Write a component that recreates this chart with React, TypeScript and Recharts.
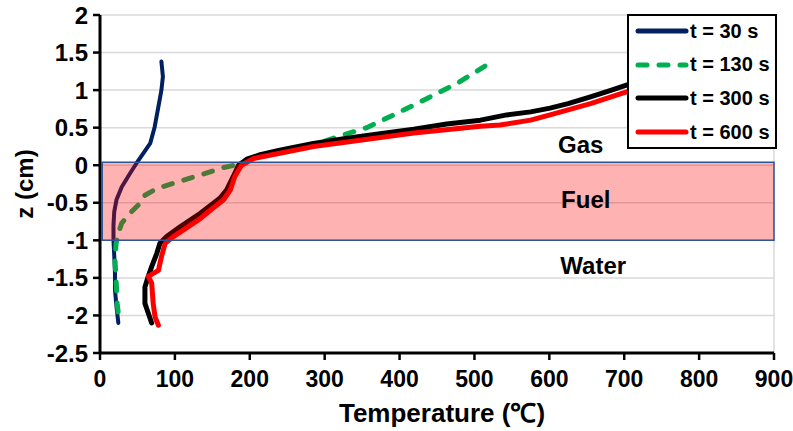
import React from 'react';
import {
  LineChart,
  Line,
  XAxis,
  YAxis,
  CartesianGrid,
  ReferenceArea,
  ReferenceDot,
  Legend,
} from 'recharts';

// ---------- data ----------
const xTicks = [0, 100, 200, 300, 400, 500, 600, 700, 800, 900];
const xGridTicks = [0, 50, 100, 150, 200, 250, 300, 350, 400, 450, 500, 550, 600, 650, 700, 750, 800, 850, 900];
const yTicks = [-2.5, -2, -1.5, -1, -0.5, 0, 0.5, 1, 1.5, 2];

// t = 30 s
const t30Temp = [82, 84, 82, 78, 73, 67, 58, 49, 40, 29, 22, 19, 18, 18, 19, 20, 20, 22, 24.5];
const t30Z = [1.38, 1.18, 1.0, 0.78, 0.51, 0.29, 0.16, 0.03, -0.11, -0.29, -0.46, -0.62, -0.8, -1.0, -1.2, -1.44, -1.66, -1.88, -2.1];

// t = 130 s
const t130Temp = [514, 477, 445, 419, 392, 356, 321, 303, 270, 240, 215, 197, 185, 165, 134, 98, 76, 60, 53, 40, 29, 24.5, 21.5, 20, 21.5, 23, 25.8];
const t130Z = [1.32, 1.09, 0.93, 0.8, 0.67, 0.5, 0.39, 0.33, 0.25, 0.19, 0.12, 0.06, 0.01, -0.03, -0.13, -0.24, -0.31, -0.4, -0.51, -0.64, -0.77, -0.91, -1.04, -1.26, -1.53, -1.84, -2.1];

// t = 300 s
const t300Temp = [790, 740, 704, 680, 655, 625, 601, 575, 543, 508, 463, 419, 374, 330, 285, 240, 214, 196, 185, 178, 169, 160, 151, 134, 107, 89, 80, 76, 69, 64.5, 60, 60, 64.5, 69];
const t300Z = [1.32, 1.17, 1.07, 0.99, 0.91, 0.82, 0.76, 0.71, 0.67, 0.6, 0.55, 0.48, 0.42, 0.36, 0.29, 0.2, 0.14, 0.08, 0.0, -0.15, -0.33, -0.44, -0.51, -0.64, -0.82, -0.95, -1.04, -1.17, -1.35, -1.48, -1.62, -1.84, -1.97, -2.1];

// t = 600 s
const t600Temp = [795, 745, 704, 655, 601, 575, 534, 508, 419, 330, 285, 240, 205, 189, 180, 174, 165, 151, 134, 107, 98, 87, 82, 78, 64.5, 69, 71, 73.5, 78];
const t600Z = [1.24, 1.09, 0.98, 0.82, 0.67, 0.6, 0.535, 0.52, 0.43, 0.31, 0.25, 0.16, 0.09, 0.0, -0.15, -0.33, -0.46, -0.57, -0.71, -0.89, -0.95, -1.04, -1.22, -1.4, -1.48, -1.57, -1.84, -2.02, -2.13];

// fuel layer
const fuelTempRange = [3, 900];
const fuelZRange = [-1, 0.04];

const toPoints = (temps: number[], zs: number[]) => temps.map((x, i) => ({ x, y: zs[i] }));

const seriesList = [
  { name: 't = 30 s', data: toPoints(t30Temp, t30Z), color: '#002060', width: 4, dash: undefined as string | undefined },
  { name: 't = 130 s', data: toPoints(t130Temp, t130Z), color: '#00B050', width: 5, dash: '9 12' },
  { name: 't = 300 s', data: toPoints(t300Temp, t300Z), color: '#000000', width: 5, dash: undefined },
  { name: 't = 600 s', data: toPoints(t600Temp, t600Z), color: '#FF0000', width: 5, dash: undefined },
];

const FONT = '"Liberation Sans", Arial, sans-serif';

const LegendBox = () => (
  <div
    style={{
      position: 'relative',
      width: 150,
      height: 135,
      boxSizing: 'border-box',
      border: '2px solid #000',
      background: '#fff',
      fontFamily: FONT,
    }}
  >
    {seriesList.map((s, i) => (
      <div
        key={s.name}
        style={{
          position: 'absolute',
          left: 5,
          top: 15 + i * 33.7 - 14,
          height: 28,
          display: 'flex',
          alignItems: 'center',
          whiteSpace: 'nowrap',
        }}
      >
        <svg width={56} height={10} style={{ display: 'block' }}>
          <line
            x1={4}
            y1={5}
            x2={52}
            y2={5}
            stroke={s.color}
            strokeWidth={5}
            strokeLinecap="round"
            strokeDasharray={s.dash ? '9 12' : undefined}
          />
        </svg>
        <span style={{ fontSize: 20, fontWeight: 'bold', color: '#000', marginLeft: 0 }}>{s.name}</span>
      </div>
    ))}
  </div>
);

const regionLabelStyle = { fontSize: 24, fontWeight: 'bold', fill: '#000', fontFamily: FONT };

export default function App() {
  return (
    <div style={{ position: 'absolute', left: 0, top: 0, width: 793, height: 431, background: '#fff' }}>
      <LineChart
        width={793}
        height={431}
        margin={{ top: 15, right: 19, left: 0, bottom: 0 }}
        style={{ fontFamily: FONT }}
      >
        <XAxis xAxisId="grid" type="number" dataKey="x" domain={[0, 900]} ticks={xGridTicks} hide />
        <CartesianGrid xAxisId="grid" stroke="#D9D9D9" strokeWidth={1.5} />
        <XAxis
          type="number"
          dataKey="x"
          domain={[0, 900]}
          ticks={xTicks}
          interval={0}
          height={78}
          tickSize={7}
          tickMargin={11}
          axisLine={{ stroke: '#000', strokeWidth: 3 }}
          tickLine={{ stroke: '#000', strokeWidth: 2.5 }}
          tick={{ fill: '#000', fontSize: 23, fontWeight: 'bold', fontFamily: FONT }}
          allowDataOverflow
          label={{
            value: 'Temperature (℃)',
            position: 'insideBottom',
            offset: 9,
            dx: 5,
            style: { fontSize: 26, fontWeight: 'bold', fill: '#000', fontFamily: FONT },
          }}
        />
        <YAxis
          type="number"
          dataKey="y"
          domain={[-2.5, 2]}
          ticks={yTicks}
          interval={0}
          width={100}
          tickSize={7}
          tickMargin={5}
          axisLine={{ stroke: '#000', strokeWidth: 3 }}
          tickLine={{ stroke: '#000', strokeWidth: 2.5 }}
          tick={{ fill: '#000', fontSize: 24, fontWeight: 'bold', fontFamily: FONT }}
          allowDataOverflow
          label={{
            value: 'z (cm)',
            angle: -90,
            position: 'center',
            dx: -26,
            style: { fontSize: 24, fontWeight: 'bold', fill: '#000', fontFamily: FONT },
          }}
        />
        {seriesList.map((s) => (
          <Line
            key={s.name}
            data={s.data}
            dataKey="y"
            name={s.name}
            type="linear"
            stroke={s.color}
            strokeWidth={s.width}
            strokeDasharray={s.dash}
            strokeLinecap="round"
            strokeLinejoin="round"
            dot={false}
            activeDot={false}
            isAnimationActive={false}
          />
        ))}
        <ReferenceArea
          x1={fuelTempRange[0]}
          x2={fuelTempRange[1]}
          y1={fuelZRange[0]}
          y2={fuelZRange[1]}
          fill="#FF0000"
          fillOpacity={0.3}
          stroke="#2F5597"
          strokeWidth={1.5}
          strokeOpacity={1}
          zIndex={450}
        />
        <ReferenceDot x={605} y={0.27} r={0} fill="none" stroke="none" label={{ value: 'Gas', position: 'right', style: regionLabelStyle }} />
        <ReferenceDot x={609} y={-0.46} r={0} fill="none" stroke="none" label={{ value: 'Fuel', position: 'right', style: regionLabelStyle }} />
        <ReferenceDot x={608} y={-1.33} r={0} fill="none" stroke="none" label={{ value: 'Water', position: 'right', style: regionLabelStyle }} />
        <Legend
          layout="vertical"
          align="center"
          verticalAlign="middle"
          content={() => <LegendBox />}
          wrapperStyle={{ left: 627, top: 14, width: 150, height: 135, bottom: 'auto', right: 'auto' }}
        />
      </LineChart>
    </div>
  );
}
